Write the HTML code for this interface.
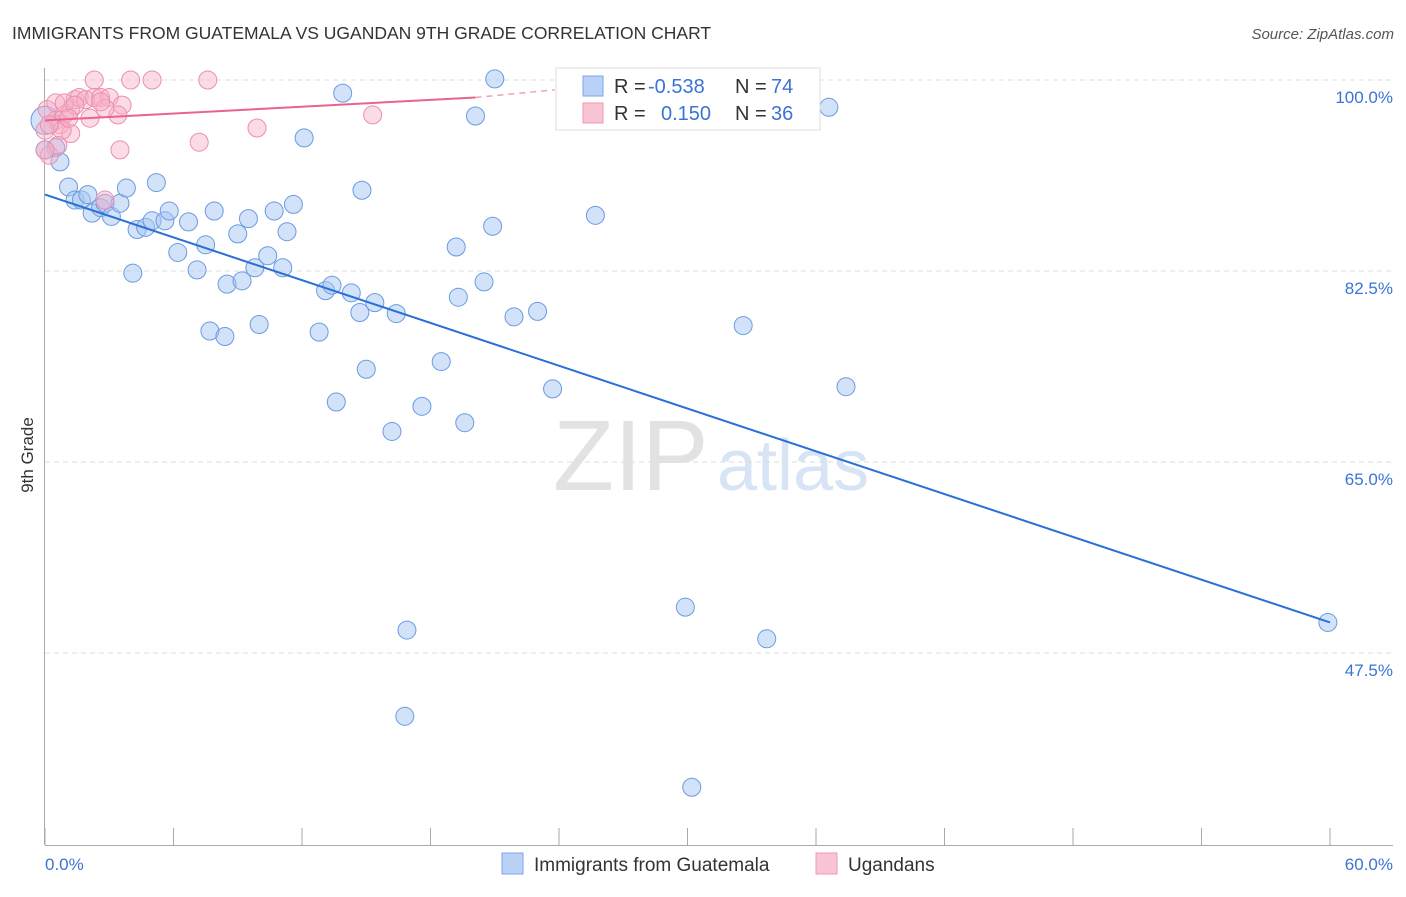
<!DOCTYPE html>
<html><head><meta charset="utf-8"><style>
body{margin:0;background:#fff;font-family:"Liberation Sans",sans-serif}
svg text{font-family:"Liberation Sans",sans-serif}
</style></head><body>
<svg id="c" width="1406" height="892" viewBox="0 0 1406 892">
<text x="12" y="39" font-size="17.5" fill="#333">IMMIGRANTS FROM GUATEMALA VS UGANDAN 9TH GRADE CORRELATION CHART</text>
<text x="1394" y="39" font-size="15" fill="#555" text-anchor="end" font-style="italic">Source: ZipAtlas.com</text>
<text transform="translate(33,455) rotate(-90)" font-size="17" fill="#333" text-anchor="middle">9th Grade</text>
<g>
<text x="553" y="490" font-size="100" font-family="Liberation Serif" fill="#e2e2e2">ZIP</text>
<text x="717" y="490" font-size="72" fill="#d6e4f5">atlas</text>
</g>
<g id="grid"></g>
<g id="axes"></g>
<g id="pts"></g>
<g id="trend"></g>
<g>
<rect x="556" y="68" width="264" height="62" fill="#fff" stroke="#ddd"/>
<rect x="583" y="76" width="20" height="20" fill="#b9d2f5" stroke="#7aa6e6"/>
<rect x="583" y="103" width="20" height="20" fill="#f9c5d5" stroke="#ec9ab5"/>
<text x="614" y="93" font-size="20" fill="#333">R = </text>
<text x="648" y="93" font-size="20" fill="#3b74d4">-0.538</text>
<text x="735" y="93" font-size="20" fill="#333">N = </text>
<text x="771" y="93" font-size="20" fill="#3b74d4">74</text>
<text x="614" y="120" font-size="20" fill="#333">R = </text>
<text x="661" y="120" font-size="20" fill="#3b74d4">0.150</text>
<text x="735" y="120" font-size="20" fill="#333">N = </text>
<text x="771" y="120" font-size="20" fill="#3b74d4">36</text>
</g>
<g>
<rect x="502" y="853" width="21" height="21" fill="#b9d2f5" stroke="#7aa6e6"/>
<text x="534" y="871" font-size="19" fill="#333">Immigrants from Guatemala</text>
<rect x="816" y="853" width="21" height="21" fill="#f9c5d5" stroke="#ec9ab5"/>
<text x="848" y="871" font-size="19" fill="#333">Ugandans</text>
</g>
</svg>
<script>
const yTicks=[100,82.5,65,47.5];
const yTickLabels=["100.0%","82.5%","65.0%","47.5%"];
const xTickLabels=["0.0%","60.0%"];
const blueX=[0.0,0.5,0.7,1.1,1.4,1.7,2.0,2.2,2.6,2.8,3.1,3.5,3.8,4.1,4.3,4.7,5.0,5.2,5.6,5.8,6.2,6.7,7.1,7.5,7.7,7.9,8.4,8.5,9.0,9.2,9.5,9.8,10.0,10.4,10.7,11.1,11.3,11.6,12.1,12.8,13.1,13.4,13.6,13.9,14.3,14.7,14.8,15.0,15.4,16.2,16.4,16.8,16.9,17.6,18.5,19.2,19.3,19.6,20.1,20.5,20.9,21.0,21.9,23.0,23.7,25.7,29.9,32.6,33.7,36.6,37.4,59.9,30.2,0.0];
const blueY=[96.3,93.8,92.5,90.2,89.0,89.0,89.5,87.8,88.3,88.7,87.5,88.7,90.1,82.3,86.3,86.5,87.1,90.6,87.1,88.0,84.2,87.0,82.6,84.9,77.0,88.0,76.5,81.3,85.9,81.6,87.3,82.8,77.6,83.9,88.0,82.8,86.1,88.6,94.7,76.9,80.7,81.2,70.5,98.8,80.5,78.7,89.9,73.5,79.6,67.8,78.6,41.7,49.6,70.1,74.2,84.7,80.1,68.6,96.7,81.5,86.6,100.1,78.3,78.8,71.7,87.6,51.7,77.5,48.8,97.5,71.9,50.3,35.2,93.6];
const pinkX=[2.3,4.0,5.0,7.6,0.5,0.7,0.9,1.2,1.4,1.6,1.9,2.3,2.6,3.0,3.6,3.4,2.8,2.1,1.2,0.8,0.2,0.6,0.0,0.1,0.5,0.9,3.5,7.2,9.9,15.3,2.8,2.6,1.4,0.2,0.0,1.1];
const pinkY=[100,100,100,100,96.3,95.9,96.8,97.3,98.2,98.4,98.2,98.4,98.4,98.4,97.7,96.8,97.4,96.5,95.1,95.4,93.1,94.0,95.4,97.3,97.9,97.9,93.6,94.3,95.6,96.8,89.0,98.0,97.7,95.9,93.6,96.5];
const blueTrendX=[0,60], blueTrendY=[89.5,50.3];
const pinkTrendX=[0,20.1,23.8], pinkTrendY=[96.3,98.4,99.1];

const NS="http://www.w3.org/2000/svg";
const X0=45,XS=1285/60,Y0=80,YS=191/17.5;
const sx=v=>X0+v*XS, sy=v=>Y0+(100-v)*YS;
function mk(tag,attrs,parent){const e=document.createElementNS(NS,tag);for(const k in attrs)e.setAttribute(k,attrs[k]);parent.appendChild(e);return e;}
const grid=document.getElementById('grid'),axes=document.getElementById('axes'),pts=document.getElementById('pts'),tr=document.getElementById('trend');
yTicks.forEach((t,i)=>{
  const l=mk('line',{x1:45,x2:1393,y1:sy(t),y2:sy(t),stroke:'#ddd','stroke-dasharray':'5,4'},grid);
  
  
  const tx=mk('text',{x:1393,y:sy(t)+23,'font-size':17,fill:'#3b74d4','text-anchor':'end'},axes);
  tx.textContent=yTickLabels[i];
  
  
});
let a=mk('line',{x1:44.5,x2:44.5,y1:68,y2:845,stroke:'#aaa'},axes);


a=mk('line',{x1:45,x2:1393,y1:845.5,y2:845.5,stroke:'#aaa'},axes);


for(let i=0;i<=10;i++){
  const t=mk('line',{x1:sx(i*6),x2:sx(i*6),y1:828,y2:845,stroke:'#aaa'},axes);
  
  
}
let xl=mk('text',{x:45,y:870,'font-size':17,fill:'#3b74d4'},axes);xl.textContent=xTickLabels[0];


xl=mk('text',{x:1393,y:870,'font-size':17,fill:'#3b74d4','text-anchor':'end'},axes);xl.textContent=xTickLabels[1];


blueX.forEach((v,i)=>{
  const c=mk('circle',{cx:sx(v),cy:sy(blueY[i]),r:(i===0?14:9),fill:'rgba(165,198,242,0.5)',stroke:'#6b9be0','stroke-width':1},pts);
  
  
});
pinkX.forEach((v,i)=>{
  const c=mk('circle',{cx:sx(v),cy:sy(pinkY[i]),r:9,fill:'rgba(246,176,200,0.45)',stroke:'#eb8fae','stroke-width':1},pts);
  
  
});
let ln=mk('line',{x1:sx(blueTrendX[0]),y1:sy(blueTrendY[0]),x2:sx(blueTrendX[1]),y2:sy(blueTrendY[1]),stroke:'#2a6fd6','stroke-width':2},tr);


ln=mk('line',{x1:sx(pinkTrendX[0]),y1:sy(pinkTrendY[0]),x2:sx(pinkTrendX[1]),y2:sy(pinkTrendY[1]),stroke:'#e8648e','stroke-width':2},tr);


ln=mk('line',{x1:sx(pinkTrendX[1]),y1:sy(pinkTrendY[1]),x2:sx(pinkTrendX[2]),y2:sy(pinkTrendY[2]),stroke:'#f0a0b8','stroke-width':1.5,'stroke-dasharray':'6,5'},tr);


</script>
</body></html>
